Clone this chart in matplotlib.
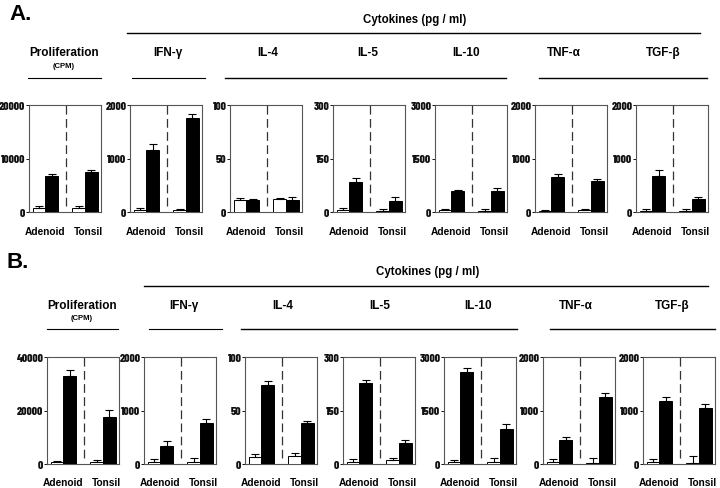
import matplotlib
matplotlib.use("Agg")
import matplotlib.pyplot as plt
import warnings
warnings.filterwarnings("ignore")

# ---------------- data ----------------
panels = ["Proliferation", "IFN-\u03b3", "IL-4", "IL-5", "IL-10", "TNF-\u03b1", "TGF-\u03b2"]
ymax = [20000, 2000, 100, 300, 3000, 2000, 2000]
ymax_b = [40000, 2000, 100, 300, 3000, 2000, 2000]
groups = ["Adenoid", "Tonsil"]

# order per panel: [adenoid white, adenoid black, tonsil white, tonsil black]
a_vals = [
    [700, 6800, 700, 7400],
    [40, 1150, 30, 1760],
    [11.5, 10.9, 12, 11.5],
    [5, 85, 4, 32],
    [47, 590, 38, 580],
    [25, 650, 44, 581],
    [25, 669, 25, 244],
]
a_errs = [
    [500, 300, 400, 400],
    [40, 120, 30, 75],
    [1.5, 1.5, 1, 2.8],
    [6, 9, 5.5, 10],
    [47, 40, 56, 95],
    [19, 62, 18, 44],
    [31, 125, 31, 31],
]
b_vals = [
    [625, 32750, 625, 17750],
    [31, 331, 31, 769],
    [6.6, 74, 7.2, 38.4],
    [6.5, 226, 10, 59],
    [47, 2578, 47, 975],
    [37, 444, 25, 1250],
    [37, 1175, 25, 1044],
]
b_errs = [
    [625, 2500, 750, 2500],
    [63, 106, 75, 75],
    [2.8, 3.5, 2.8, 1.6],
    [7.5, 9, 8, 9],
    [75, 122, 131, 140],
    [50, 56, 81, 75],
    [50, 69, 119, 75],
]

# ---------------- layout ----------------
W, H = 720, 489
fig = plt.figure(figsize=(W / 100, H / 100), dpi=100)
fig.patch.set_facecolor("white")

TICKFONT = ["Barlow Condensed", "Archivo Narrow", "DejaVu Sans"]
TEXTFONT = ["Liberation Sans", "DejaVu Sans"]

xpos = [1.4, 3.15, 6.9, 8.65]
bw = 1.75
xdash = 5.1


def px_text(x, y, s, size, weight="bold", ha="center", family=TEXTFONT):
    fig.text(x / W, 1 - y / H, s, fontsize=size, fontweight=weight,
             ha=ha, va="center", family=family)


def px_line(x0, x1, y, lw=1.0):
    fig.add_artist(plt.Line2D([x0 / W, x1 / W], [1 - y / H, 1 - y / H],
                              color="black", lw=lw, transform=fig.transFigure))


def draw_row(lefts, top, bottom, vals, errs, ymaxs, label_y):
    for i, left in enumerate(lefts):
        ax = fig.add_axes([left / W, 1 - bottom / H, 72 / W, (bottom - top) / H])
        v = vals[i]
        e = errs[i]
        colors = ["white", "black", "white", "black"]
        ax.axvline(xdash, ymin=0.06, ymax=1, color="#333333", lw=0.9,
                   ls=(0, (7, 3.5)), zorder=1)
        ax.bar(xpos, v, width=bw, color=colors, edgecolor="black", lw=0.7, zorder=3)
        ax.errorbar(xpos, v, yerr=[[0] * 4, e], fmt="none", ecolor="black",
                    elinewidth=0.8, capsize=2.6, capthick=0.8, zorder=4)
        ax.set_xlim(0, 10)
        ax.set_ylim(0, ymaxs[i])
        ax.set_xticks([])
        ticks = [0, ymaxs[i] / 2, ymaxs[i]]
        ax.set_yticks(ticks)
        ax.set_yticklabels([f"{int(t)}" for t in ticks],
                           family=TICKFONT, fontweight=800, fontsize=8.4)
        ax.tick_params(axis="y", length=2.2, width=0.7, pad=0.4, colors="#111111")
        for s in ax.spines.values():
            s.set_color("#555555")
            s.set_linewidth(0.8)
        px_text(left + 0.22 * 72, label_y, groups[0], 7.3)
        px_text(left + 0.82 * 72, label_y, groups[1], 7.3)


# -------- Panel A --------
lefts_a = [29, 130, 230, 333, 435, 535, 636]
draw_row(lefts_a, 106, 213, a_vals, a_errs, ymax, 232)
px_text(9, 14, "A.", 16, ha="left")
px_text(415, 20, "Cytokines (pg / ml)", 8.3)
px_line(127, 700, 34)
title_x_a = [64, 168, 268, 368, 466, 564, 663]
for t, x in zip(panels, title_x_a):
    px_text(x, 53, t, 8.5)
px_text(64, 66, "(CPM)", 5.5)
px_line(28, 101, 79, 0.8)
px_line(132, 205, 79, 0.8)
px_line(225, 506, 79)
px_line(539, 707, 79)

# -------- Panel B --------
lefts_b = [47, 144, 245, 343, 444, 543, 643]
draw_row(lefts_b, 358, 465, b_vals, b_errs, ymax_b, 483)
px_text(7, 262, "B.", 16, ha="left")
px_text(428, 272, "Cytokines (pg / ml)", 8.3)
px_line(144, 708, 287)
title_x_b = [82, 184, 283, 380, 478, 576, 672]
for t, x in zip(panels, title_x_b):
    px_text(x, 306, t, 8.5)
px_text(82, 318, "(CPM)", 5.5)
px_line(47, 118, 330, 0.8)
px_line(149, 222, 330, 0.8)
px_line(241, 517, 330)
px_line(550, 715, 330)

fig.savefig("out.png", dpi=100, facecolor="white")
